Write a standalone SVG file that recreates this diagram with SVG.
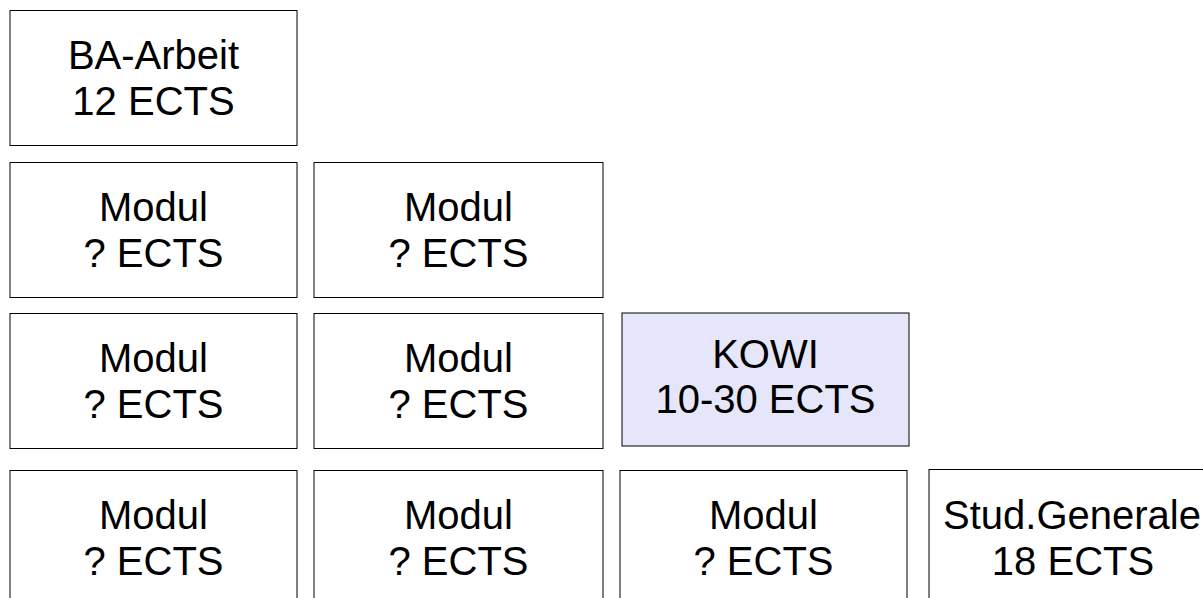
<svg xmlns="http://www.w3.org/2000/svg" width="1203" height="598" viewBox="0 0 1203 598">
  <style>
    .box { fill: #ffffff; stroke: #000000; stroke-width: 1; }
    .kowi { fill: #e6e6fa; stroke: #000000; stroke-width: 1; }
    .lbl { font-family: "Liberation Sans", Arial, sans-serif; font-size: 40px; fill: #000000; text-anchor: middle; }
  </style>
  <rect width="1203" height="598" fill="#ffffff"/>
  <g id="ba-arbeit">
    <rect class="box" x="10" y="10.5" width="287" height="135"/>
    <text class="lbl" x="153.5" y="69">BA-Arbeit</text>
    <text class="lbl" x="153.5" y="115">12 ECTS</text>
  </g>
  <g id="modul-r2c1">
    <rect class="box" x="10" y="162.5" width="287" height="135"/>
    <text class="lbl" x="153.5" y="221">Modul</text>
    <text class="lbl" x="153.5" y="267">? ECTS</text>
  </g>
  <g id="modul-r2c2">
    <rect class="box" x="314" y="162.5" width="289" height="135"/>
    <text class="lbl" x="458.5" y="221">Modul</text>
    <text class="lbl" x="458.5" y="267">? ECTS</text>
  </g>
  <g id="modul-r3c1">
    <rect class="box" x="10" y="313.5" width="287" height="135"/>
    <text class="lbl" x="153.5" y="372">Modul</text>
    <text class="lbl" x="153.5" y="418">? ECTS</text>
  </g>
  <g id="modul-r3c2">
    <rect class="box" x="314" y="313.5" width="289" height="135"/>
    <text class="lbl" x="458.5" y="372">Modul</text>
    <text class="lbl" x="458.5" y="418">? ECTS</text>
  </g>
  <g id="kowi">
    <rect class="kowi" x="622" y="313" width="287" height="133"/>
    <text class="lbl" x="765.5" y="368">KOWI</text>
    <text class="lbl" x="765.5" y="413">10-30 ECTS</text>
  </g>
  <g id="modul-r4c1">
    <rect class="box" x="10" y="470.5" width="287" height="135"/>
    <text class="lbl" x="153.5" y="529">Modul</text>
    <text class="lbl" x="153.5" y="575">? ECTS</text>
  </g>
  <g id="modul-r4c2">
    <rect class="box" x="314" y="470.5" width="289" height="135"/>
    <text class="lbl" x="458.5" y="529">Modul</text>
    <text class="lbl" x="458.5" y="575">? ECTS</text>
  </g>
  <g id="modul-r4c3">
    <rect class="box" x="620" y="470.5" width="287" height="135"/>
    <text class="lbl" x="763.5" y="529">Modul</text>
    <text class="lbl" x="763.5" y="575">? ECTS</text>
  </g>
  <g id="stud-generale">
    <rect class="box" x="929" y="469.5" width="288" height="135"/>
    <text class="lbl" x="1072" y="529">Stud.Generale</text>
    <text class="lbl" x="1073" y="575">18 ECTS</text>
  </g>
  <g id="connectors"></g>
</svg>
